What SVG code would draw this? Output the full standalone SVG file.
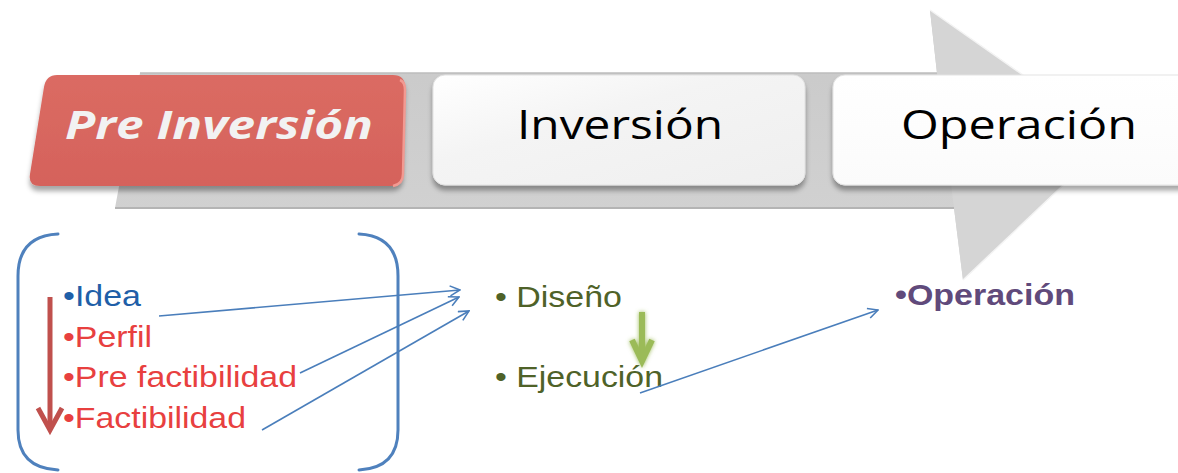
<svg xmlns="http://www.w3.org/2000/svg" width="1178" height="473" viewBox="0 0 1178 473">
  <defs>
    <linearGradient id="shaftGrad" x1="0" y1="0" x2="0" y2="1">
      <stop offset="0" stop-color="#c8c8c8"/>
      <stop offset="1" stop-color="#d4d4d4"/>
    </linearGradient>
    <linearGradient id="redGrad" x1="0" y1="0" x2="0" y2="1">
      <stop offset="0" stop-color="#db6b63"/>
      <stop offset="1" stop-color="#d5625b"/>
    </linearGradient>
    <linearGradient id="grayBoxGrad" x1="0" y1="0" x2="1" y2="1">
      <stop offset="0" stop-color="#ffffff"/>
      <stop offset="0.4" stop-color="#f4f4f4"/>
      <stop offset="1" stop-color="#efefef"/>
    </linearGradient>
    <linearGradient id="whiteBoxGrad" x1="0" y1="0" x2="0" y2="1">
      <stop offset="0" stop-color="#ffffff"/>
      <stop offset="1" stop-color="#fbfbfb"/>
    </linearGradient>
    <filter id="boxShadow" x="-10%" y="-10%" width="120%" height="140%">
      <feDropShadow dx="0" dy="5" stdDeviation="2.5" flood-color="#000" flood-opacity="0.35"/>
    </filter>
    <filter id="greenGlow" x="-100%" y="-30%" width="300%" height="160%">
      <feGaussianBlur in="SourceGraphic" stdDeviation="2" result="b"/>
      <feMerge><feMergeNode in="b"/><feMergeNode in="SourceGraphic"/></feMerge>
    </filter>
    <marker id="openArrow" viewBox="0 0 12 12" refX="11" refY="6" markerWidth="12" markerHeight="12" markerUnits="userSpaceOnUse" orient="auto">
      <path d="M1,1 L11,6 L1,11" fill="none" stroke="#4a7ebb" stroke-width="1.6"/>
    </marker>
    <style>
      .bracket { fill: none; stroke: #4f81bd; stroke-width: 3; stroke-linecap: round; }
      .conn { fill: none; stroke: #4a7ebb; stroke-width: 1.6; marker-end: url(#openArrow); }
      .phase { font-family: "Open Sans", "Liberation Sans", sans-serif; font-size: 40px; }
      .item { font-family: "Liberation Sans", Arial, sans-serif; font-size: 30px; }
    </style>
  </defs>

  <rect width="1178" height="473" fill="#ffffff"/>

  <g id="big-arrow">
    <path d="M140,73 L937,73 L930,10 L1113,138 L963,280 L954,208 L115,208 Z" fill="url(#shaftGrad)"/>
    <path d="M930,10 L1113,138 L963,280 L954,208 L937,73 Z" fill="#d5d5d5"/>
    <path d="M930,10 L1113,138 M1113,138 L963,280" fill="none" stroke="#f4f4f4" stroke-width="1.5"/>
    <path d="M140,73 L937,73" stroke="#bdbdbd" stroke-width="1.5"/>
    <path d="M115,208 L954,208" stroke="#b4b4b4" stroke-width="2"/>
  </g>

  <g id="node-pre-inversion">
    <path d="M57,75 L393,75 Q405,75 405,87 L403,174 Q403,186 391,186 L40,186 Q28,186 30,174 L44,87 Q46,75 57,75 Z" fill="url(#redGrad)" filter="url(#boxShadow)"/>
    <path d="M400,80 Q405,82 405,90 L403,174 Q403,184 393,186" fill="none" stroke="#f29a92" stroke-width="2.5"/>
    <text class="phase" x="219" y="139" text-anchor="middle" font-weight="bold" font-style="italic" fill="#f2f2f2" textLength="308" lengthAdjust="spacingAndGlyphs">Pre Inversión</text>
  </g>

  <g id="node-inversion">
    <rect x="433" y="75" width="372" height="110" rx="12" ry="12" fill="url(#grayBoxGrad)" stroke="#e2e2e2" stroke-width="1" filter="url(#boxShadow)"/>
    <text class="phase" x="620" y="139" text-anchor="middle" fill="#000000" textLength="206" lengthAdjust="spacingAndGlyphs">Inversión</text>
  </g>

  <g id="node-operacion">
    <rect x="833" y="75" width="400" height="110" rx="12" ry="12" fill="url(#whiteBoxGrad)" stroke="#e4e4e4" stroke-width="1" filter="url(#boxShadow)"/>
    <text class="phase" x="1019" y="139" text-anchor="middle" fill="#000000" textLength="236" lengthAdjust="spacingAndGlyphs">Operación</text>
  </g>

  <g id="node-preinversion-list">
    <path class="bracket" d="M58,234 Q18,236 18,276 L18,430 Q18,468 58,470"/>
    <path class="bracket" d="M359,234 Q398,236 398,276 L398,430 Q398,468 359,470"/>
    <g id="red-down-arrow" fill="none" stroke="#c0504d" stroke-width="5">
      <line x1="50" y1="297" x2="50" y2="428"/>
      <polyline points="38,408 50,430 62,408" stroke-linejoin="miter"/>
    </g>
    <text class="item" x="63" y="306" fill="#1f5fa8" textLength="78" lengthAdjust="spacingAndGlyphs">•Idea</text>
    <text class="item" x="63" y="347" fill="#e8403f" textLength="89" lengthAdjust="spacingAndGlyphs">•Perfil</text>
    <text class="item" x="63" y="387" fill="#e8403f" textLength="234" lengthAdjust="spacingAndGlyphs">•Pre factibilidad</text>
    <text class="item" x="63" y="428" fill="#e8403f" textLength="183" lengthAdjust="spacingAndGlyphs">•Factibilidad</text>
  </g>

  <g id="node-inversion-list">
    <text class="item" x="495" y="307" fill="#4f6228" textLength="127" lengthAdjust="spacingAndGlyphs">• Diseño</text>
    <text class="item" x="495" y="387" fill="#4f6228" textLength="168" lengthAdjust="spacingAndGlyphs">• Ejecución</text>
    <g id="green-down-arrow" fill="none" stroke="#9bbb59" stroke-width="6" filter="url(#greenGlow)">
      <line x1="642" y1="312" x2="642" y2="358"/>
      <polyline points="632,340 642,361 652,340"/>
    </g>
  </g>

  <g id="node-operacion-list">
    <text class="item" x="895" y="305" fill="#604a7b" font-weight="bold" textLength="180" lengthAdjust="spacingAndGlyphs">•Operación</text>
  </g>

  <g id="connectors">
    <line class="conn" x1="159" y1="316" x2="460" y2="290"/>
    <line class="conn" x1="300" y1="373" x2="459" y2="297"/>
    <line class="conn" x1="262" y1="430" x2="469" y2="311"/>
    <line class="conn" x1="640" y1="393" x2="878" y2="310"/>
  </g>
</svg>
